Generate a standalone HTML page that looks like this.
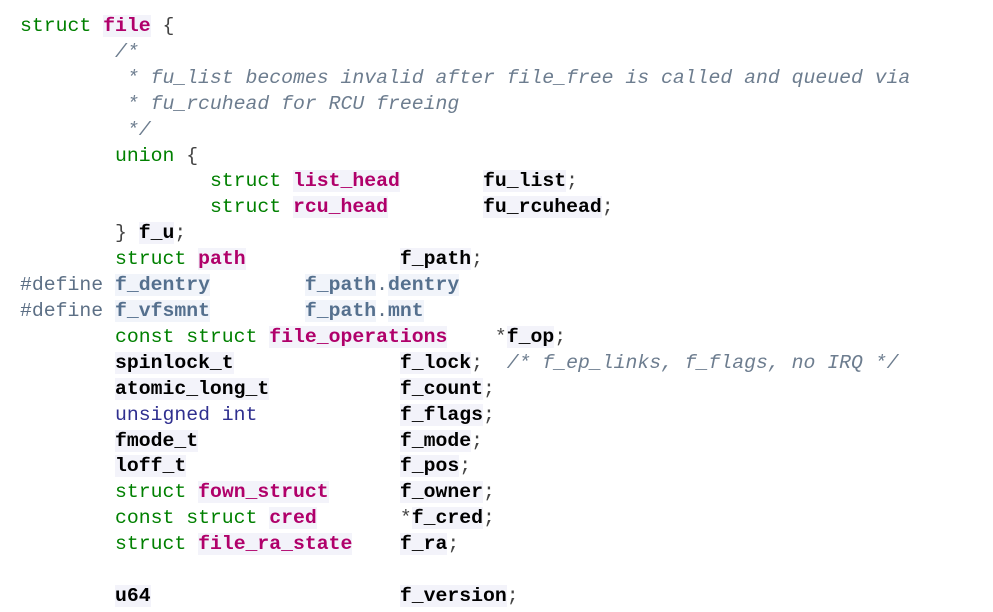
<!DOCTYPE html>
<html><head><meta charset="utf-8"><style>
body{margin:0;background:#fff;width:993px;height:612px;overflow:hidden}
pre{margin:0;position:absolute;left:20px;top:14px;font-family:"Liberation Mono","DejaVu Sans Mono",monospace;font-size:19.8px;line-height:25.9px;color:#5c6f85}
.k{color:#008000}
.t{color:#b0006a;font-weight:bold;background:#f3f3fa}
.b{color:#000;font-weight:bold;background:#f3f3fa}
.c{color:#6d7d8f;font-style:italic}
.d{color:#55708e;font-weight:bold;background:#f1f4fa}
.n{color:#2f2f8f}
.p{color:#444}
</style></head><body><pre><span class="k">struct</span> <span class="t">file</span> <span class="p">{</span>
        <span class="c">/*</span>
<span class="c">         * fu_list becomes invalid after file_free is called and queued via</span>
<span class="c">         * fu_rcuhead for RCU freeing</span>
<span class="c">         */</span>
        <span class="k">union</span> <span class="p">{</span>
                <span class="k">struct</span> <span class="t">list_head</span>       <span class="b">fu_list</span><span class="p">;</span>
                <span class="k">struct</span> <span class="t">rcu_head</span>        <span class="b">fu_rcuhead</span><span class="p">;</span>
        <span class="p">}</span> <span class="b">f_u</span><span class="p">;</span>
        <span class="k">struct</span> <span class="t">path</span>             <span class="b">f_path</span><span class="p">;</span>
#define <span class="d">f_dentry</span>        <span class="d">f_path</span>.<span class="d">dentry</span>
#define <span class="d">f_vfsmnt</span>        <span class="d">f_path</span>.<span class="d">mnt</span>
        <span class="k">const struct</span> <span class="t">file_operations</span>    <span class="p">*</span><span class="b">f_op</span><span class="p">;</span>
        <span class="b">spinlock_t</span>              <span class="b">f_lock</span><span class="p">;</span>  <span class="c">/* f_ep_links, f_flags, no IRQ */</span>
        <span class="b">atomic_long_t</span>           <span class="b">f_count</span><span class="p">;</span>
        <span class="n">unsigned int</span>            <span class="b">f_flags</span><span class="p">;</span>
        <span class="b">fmode_t</span>                 <span class="b">f_mode</span><span class="p">;</span>
        <span class="b">loff_t</span>                  <span class="b">f_pos</span><span class="p">;</span>
        <span class="k">struct</span> <span class="t">fown_struct</span>      <span class="b">f_owner</span><span class="p">;</span>
        <span class="k">const struct</span> <span class="t">cred</span>       <span class="p">*</span><span class="b">f_cred</span><span class="p">;</span>
        <span class="k">struct</span> <span class="t">file_ra_state</span>    <span class="b">f_ra</span><span class="p">;</span>

        <span class="b">u64</span>                     <span class="b">f_version</span><span class="p">;</span>
</pre></body></html>
